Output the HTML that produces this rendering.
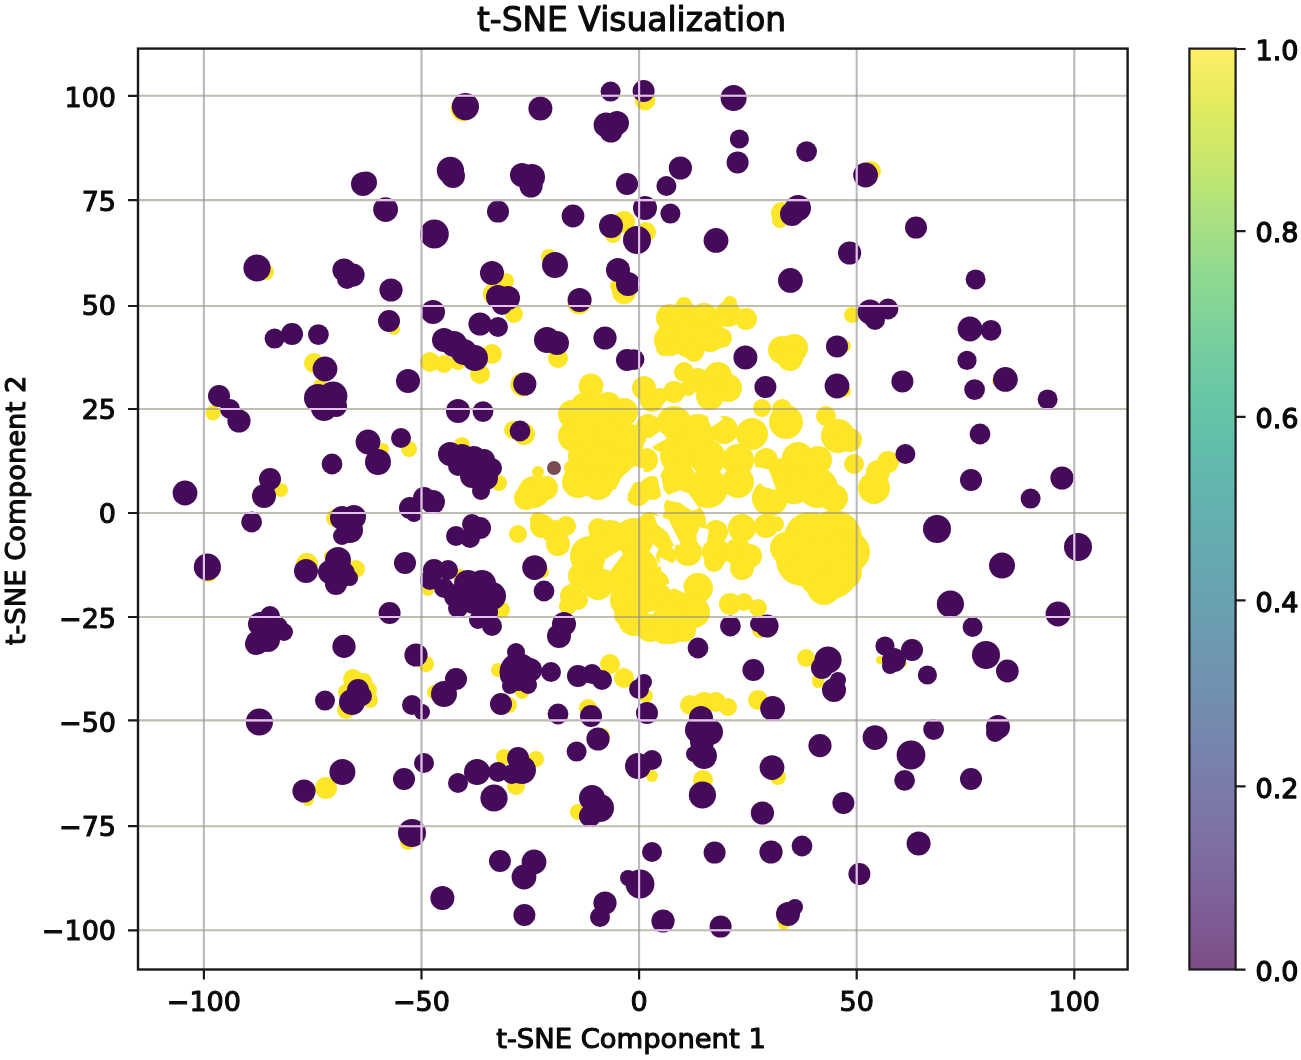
<!DOCTYPE html>
<html><head><meta charset="utf-8"><title>t-SNE Visualization</title>
<style>
html,body{margin:0;padding:0;background:#fff;}
svg{display:block}
text{font-family:"DejaVu Sans","Liberation Sans",sans-serif;fill:#0a0a0a;stroke:#0a0a0a;stroke-width:1.1px;stroke-linejoin:round}
.tk{font-size:27px}
.lb{font-size:27.4px}
.cbt{stroke-width:1.3px}
.tt{font-size:32.9px}
</style></head><body>
<svg width="1301" height="1060" viewBox="0 0 1301 1060">
<defs>
<linearGradient id="cb" x1="0" y1="1" x2="0" y2="0">
<stop offset="0.0000" stop-color="#7c4d87"/>
<stop offset="0.0625" stop-color="#7f5d97"/>
<stop offset="0.1250" stop-color="#7e6ca3"/>
<stop offset="0.1875" stop-color="#7b79aa"/>
<stop offset="0.2500" stop-color="#7686ae"/>
<stop offset="0.3125" stop-color="#7092b0"/>
<stop offset="0.3750" stop-color="#6b9db0"/>
<stop offset="0.4375" stop-color="#67a7b0"/>
<stop offset="0.5000" stop-color="#63b2af"/>
<stop offset="0.5625" stop-color="#62bcac"/>
<stop offset="0.6250" stop-color="#69c7a6"/>
<stop offset="0.6875" stop-color="#78d09d"/>
<stop offset="0.7500" stop-color="#8ed991"/>
<stop offset="0.8125" stop-color="#a9e181"/>
<stop offset="0.8750" stop-color="#c6e76e"/>
<stop offset="0.9375" stop-color="#e3eb5e"/>
<stop offset="1.0000" stop-color="#feee66"/>
</linearGradient>
<clipPath id="cp"><rect x="138.0" y="48.6" width="989.5999999999999" height="920.9"/></clipPath>
</defs>
<rect width="1301" height="1060" fill="#fff"/>

<defs><g id="pp"><circle cx="363.0" cy="184.0" r="12.0"/><circle cx="366.0" cy="182.4" r="11.0"/><circle cx="385.6" cy="209.6" r="12.4"/><circle cx="465.4" cy="106.6" r="13.6"/><circle cx="540.4" cy="108.6" r="12.0"/><circle cx="610.6" cy="91.6" r="10.0"/><circle cx="643.6" cy="91.0" r="11.0"/><circle cx="606.0" cy="125.0" r="12.4"/><circle cx="617.0" cy="123.0" r="12.0"/><circle cx="611.0" cy="131.0" r="11.6"/><circle cx="450.4" cy="170.4" r="13.6"/><circle cx="453.0" cy="176.0" r="12.0"/><circle cx="522.0" cy="175.0" r="12.0"/><circle cx="532.0" cy="177.0" r="13.0"/><circle cx="531.0" cy="186.0" r="11.6"/><circle cx="627.0" cy="184.0" r="11.0"/><circle cx="498.0" cy="211.6" r="11.0"/><circle cx="573.0" cy="216.0" r="11.4"/><circle cx="434.4" cy="234.0" r="14.4"/><circle cx="645.0" cy="208.0" r="12.0"/><circle cx="611.0" cy="226.0" r="12.0"/><circle cx="637.0" cy="240.0" r="14.0"/><circle cx="733.6" cy="98.0" r="13.0"/><circle cx="739.4" cy="139.0" r="9.6"/><circle cx="737.6" cy="162.4" r="11.0"/><circle cx="806.6" cy="151.6" r="10.4"/><circle cx="680.4" cy="168.0" r="11.6"/><circle cx="666.4" cy="186.0" r="10.0"/><circle cx="670.4" cy="213.6" r="10.0"/><circle cx="865.6" cy="175.0" r="12.4"/><circle cx="798.0" cy="208.0" r="13.0"/><circle cx="792.0" cy="214.0" r="12.0"/><circle cx="716.0" cy="240.4" r="12.4"/><circle cx="916.0" cy="227.6" r="11.0"/><circle cx="849.6" cy="253.0" r="11.6"/><circle cx="257.0" cy="268.0" r="13.6"/><circle cx="344.0" cy="270.0" r="11.6"/><circle cx="353.0" cy="275.0" r="11.6"/><circle cx="347.0" cy="279.0" r="10.0"/><circle cx="391.0" cy="290.0" r="11.6"/><circle cx="389.0" cy="321.0" r="11.0"/><circle cx="274.6" cy="338.6" r="10.0"/><circle cx="292.0" cy="334.0" r="11.0"/><circle cx="318.4" cy="334.6" r="10.4"/><circle cx="325.0" cy="369.0" r="12.4"/><circle cx="318.0" cy="398.0" r="14.0"/><circle cx="333.0" cy="396.0" r="14.4"/><circle cx="324.0" cy="408.0" r="13.0"/><circle cx="336.0" cy="406.0" r="11.0"/><circle cx="219.0" cy="396.0" r="11.0"/><circle cx="230.0" cy="409.0" r="10.0"/><circle cx="239.0" cy="421.0" r="11.6"/><circle cx="368.0" cy="442.0" r="12.4"/><circle cx="332.0" cy="464.0" r="10.4"/><circle cx="492.0" cy="273.0" r="12.0"/><circle cx="498.0" cy="297.0" r="12.0"/><circle cx="508.0" cy="298.0" r="12.0"/><circle cx="502.0" cy="305.0" r="10.0"/><circle cx="555.0" cy="265.0" r="13.0"/><circle cx="618.0" cy="270.0" r="12.0"/><circle cx="628.0" cy="284.0" r="12.0"/><circle cx="579.6" cy="300.0" r="12.0"/><circle cx="433.0" cy="312.0" r="12.0"/><circle cx="480.0" cy="324.0" r="11.6"/><circle cx="498.0" cy="327.0" r="10.0"/><circle cx="444.0" cy="340.0" r="12.0"/><circle cx="454.0" cy="344.0" r="13.0"/><circle cx="464.0" cy="352.0" r="13.0"/><circle cx="475.0" cy="358.0" r="13.0"/><circle cx="547.0" cy="340.0" r="13.0"/><circle cx="557.0" cy="343.0" r="12.0"/><circle cx="605.0" cy="338.0" r="11.6"/><circle cx="627.0" cy="360.0" r="11.0"/><circle cx="634.0" cy="359.6" r="10.4"/><circle cx="408.0" cy="381.0" r="12.0"/><circle cx="524.8" cy="384.0" r="11.6"/><circle cx="458.0" cy="411.0" r="12.0"/><circle cx="483.0" cy="411.6" r="10.4"/><circle cx="520.0" cy="431.0" r="10.4"/><circle cx="401.0" cy="438.0" r="10.0"/><circle cx="450.0" cy="454.0" r="12.0"/><circle cx="462.0" cy="456.0" r="12.0"/><circle cx="474.0" cy="458.0" r="12.0"/><circle cx="484.0" cy="460.0" r="11.0"/><circle cx="492.0" cy="468.0" r="10.0"/><circle cx="458.0" cy="466.0" r="10.0"/><circle cx="790.4" cy="280.4" r="12.4"/><circle cx="870.0" cy="312.0" r="12.4"/><circle cx="888.0" cy="309.0" r="10.4"/><circle cx="875.0" cy="320.0" r="10.0"/><circle cx="837.0" cy="346.4" r="11.0"/><circle cx="745.4" cy="357.6" r="12.0"/><circle cx="765.4" cy="387.0" r="11.0"/><circle cx="837.0" cy="386.0" r="12.4"/><circle cx="902.4" cy="381.4" r="11.0"/><circle cx="905.4" cy="454.0" r="10.0"/><circle cx="975.6" cy="279.4" r="10.0"/><circle cx="970.0" cy="329.0" r="12.4"/><circle cx="991.0" cy="330.4" r="10.4"/><circle cx="967.0" cy="360.4" r="9.6"/><circle cx="974.6" cy="389.6" r="10.4"/><circle cx="1005.4" cy="379.4" r="12.4"/><circle cx="1047.6" cy="399.4" r="10.0"/><circle cx="980.0" cy="434.0" r="10.4"/><circle cx="378.0" cy="462.0" r="13.0"/><circle cx="185.0" cy="493.0" r="12.4"/><circle cx="270.0" cy="479.0" r="11.0"/><circle cx="264.0" cy="496.0" r="12.0"/><circle cx="251.6" cy="522.0" r="10.4"/><circle cx="342.0" cy="518.0" r="12.0"/><circle cx="354.0" cy="517.0" r="12.0"/><circle cx="350.0" cy="530.0" r="13.0"/><circle cx="342.0" cy="536.0" r="9.0"/><circle cx="207.4" cy="567.0" r="13.6"/><circle cx="306.0" cy="571.0" r="12.0"/><circle cx="338.0" cy="560.0" r="13.0"/><circle cx="330.0" cy="572.0" r="12.0"/><circle cx="342.0" cy="574.0" r="13.0"/><circle cx="336.0" cy="584.0" r="11.0"/><circle cx="350.0" cy="578.0" r="8.0"/><circle cx="270.0" cy="616.0" r="10.0"/><circle cx="260.0" cy="624.0" r="12.0"/><circle cx="276.0" cy="628.0" r="12.0"/><circle cx="284.0" cy="632.0" r="9.0"/><circle cx="258.0" cy="642.0" r="12.0"/><circle cx="268.0" cy="640.0" r="12.0"/><circle cx="256.0" cy="644.0" r="11.0"/><circle cx="389.6" cy="613.0" r="11.0"/><circle cx="344.0" cy="646.4" r="11.6"/><circle cx="472.0" cy="476.0" r="12.0"/><circle cx="486.0" cy="478.0" r="12.0"/><circle cx="481.0" cy="491.0" r="9.0"/><circle cx="410.0" cy="508.0" r="11.0"/><circle cx="424.0" cy="498.0" r="11.0"/><circle cx="433.0" cy="502.0" r="12.0"/><circle cx="414.0" cy="514.0" r="8.0"/><circle cx="456.0" cy="536.0" r="10.0"/><circle cx="472.0" cy="524.0" r="10.0"/><circle cx="480.0" cy="528.0" r="11.0"/><circle cx="470.0" cy="538.0" r="10.0"/><circle cx="405.0" cy="563.0" r="11.0"/><circle cx="534.6" cy="567.6" r="12.4"/><circle cx="544.0" cy="591.0" r="10.4"/><circle cx="434.0" cy="570.0" r="11.0"/><circle cx="448.0" cy="570.0" r="10.0"/><circle cx="430.0" cy="580.0" r="10.0"/><circle cx="444.0" cy="588.0" r="10.0"/><circle cx="456.0" cy="596.0" r="12.0"/><circle cx="468.0" cy="584.0" r="14.0"/><circle cx="482.0" cy="584.0" r="14.0"/><circle cx="492.0" cy="596.0" r="14.0"/><circle cx="474.0" cy="600.0" r="14.0"/><circle cx="458.0" cy="608.0" r="10.0"/><circle cx="486.0" cy="612.0" r="12.0"/><circle cx="478.0" cy="620.0" r="9.0"/><circle cx="492.0" cy="626.0" r="10.0"/><circle cx="564.0" cy="624.0" r="12.0"/><circle cx="559.0" cy="636.0" r="12.0"/><circle cx="416.0" cy="655.0" r="11.6"/><circle cx="456.0" cy="679.0" r="11.0"/><circle cx="516.0" cy="652.0" r="9.0"/><circle cx="518.0" cy="666.0" r="12.0"/><circle cx="530.0" cy="670.0" r="12.0"/><circle cx="510.0" cy="676.0" r="10.0"/><circle cx="551.0" cy="672.0" r="10.0"/><circle cx="578.0" cy="676.0" r="11.0"/><circle cx="592.0" cy="674.0" r="10.0"/><circle cx="602.0" cy="680.0" r="10.0"/><circle cx="644.0" cy="682.0" r="8.0"/><circle cx="730.4" cy="626.0" r="10.4"/><circle cx="767.0" cy="626.0" r="11.6"/><circle cx="758.0" cy="624.0" r="8.0"/><circle cx="698.0" cy="648.0" r="10.4"/><circle cx="753.4" cy="670.0" r="11.0"/><circle cx="828.0" cy="660.0" r="13.6"/><circle cx="822.0" cy="668.0" r="11.0"/><circle cx="838.0" cy="680.0" r="8.0"/><circle cx="885.0" cy="646.0" r="9.6"/><circle cx="894.0" cy="660.0" r="12.0"/><circle cx="912.0" cy="650.0" r="11.0"/><circle cx="890.0" cy="666.0" r="8.0"/><circle cx="971.0" cy="480.0" r="11.0"/><circle cx="1062.0" cy="478.0" r="11.6"/><circle cx="1030.6" cy="498.6" r="10.0"/><circle cx="937.0" cy="529.0" r="14.0"/><circle cx="1078.0" cy="547.0" r="14.0"/><circle cx="1002.0" cy="565.6" r="13.0"/><circle cx="950.4" cy="604.0" r="13.6"/><circle cx="1058.0" cy="614.0" r="12.4"/><circle cx="972.6" cy="627.0" r="10.0"/><circle cx="986.0" cy="655.0" r="14.0"/><circle cx="1007.4" cy="671.0" r="11.4"/><circle cx="927.4" cy="675.0" r="9.6"/><circle cx="259.4" cy="722.0" r="13.6"/><circle cx="325.0" cy="700.6" r="10.0"/><circle cx="358.0" cy="690.0" r="11.0"/><circle cx="352.0" cy="702.0" r="13.0"/><circle cx="362.0" cy="696.0" r="10.0"/><circle cx="342.4" cy="772.0" r="13.0"/><circle cx="304.0" cy="791.0" r="11.6"/><circle cx="412.0" cy="705.0" r="10.0"/><circle cx="422.0" cy="712.0" r="8.0"/><circle cx="444.0" cy="694.0" r="13.0"/><circle cx="501.0" cy="704.0" r="11.0"/><circle cx="510.0" cy="686.0" r="8.0"/><circle cx="528.0" cy="685.0" r="9.0"/><circle cx="639.0" cy="689.0" r="10.0"/><circle cx="558.0" cy="714.0" r="10.4"/><circle cx="591.0" cy="716.0" r="11.0"/><circle cx="598.0" cy="739.0" r="11.6"/><circle cx="576.6" cy="751.6" r="10.0"/><circle cx="647.0" cy="713.0" r="11.0"/><circle cx="424.0" cy="763.0" r="10.0"/><circle cx="404.0" cy="779.0" r="11.0"/><circle cx="458.0" cy="783.0" r="10.0"/><circle cx="477.0" cy="772.0" r="13.0"/><circle cx="494.0" cy="798.0" r="13.6"/><circle cx="498.0" cy="772.0" r="10.0"/><circle cx="518.0" cy="758.0" r="11.0"/><circle cx="522.0" cy="770.0" r="14.0"/><circle cx="512.0" cy="774.0" r="10.0"/><circle cx="638.0" cy="766.0" r="13.0"/><circle cx="652.0" cy="760.0" r="10.0"/><circle cx="592.0" cy="798.0" r="13.0"/><circle cx="600.0" cy="808.0" r="14.0"/><circle cx="590.0" cy="816.0" r="11.0"/><circle cx="412.0" cy="833.0" r="14.0"/><circle cx="500.0" cy="861.0" r="11.0"/><circle cx="534.0" cy="862.0" r="12.4"/><circle cx="524.0" cy="877.0" r="12.4"/><circle cx="652.0" cy="852.0" r="10.0"/><circle cx="834.0" cy="690.0" r="12.0"/><circle cx="701.0" cy="718.0" r="12.0"/><circle cx="698.0" cy="730.0" r="13.0"/><circle cx="710.0" cy="732.0" r="13.0"/><circle cx="702.0" cy="742.0" r="12.0"/><circle cx="704.0" cy="756.0" r="13.0"/><circle cx="694.0" cy="754.0" r="8.0"/><circle cx="772.6" cy="708.4" r="12.4"/><circle cx="702.4" cy="795.0" r="13.6"/><circle cx="820.0" cy="745.6" r="11.6"/><circle cx="772.0" cy="767.6" r="12.4"/><circle cx="875.0" cy="737.6" r="12.4"/><circle cx="843.4" cy="803.0" r="11.0"/><circle cx="762.4" cy="813.0" r="11.6"/><circle cx="714.6" cy="852.6" r="11.0"/><circle cx="771.0" cy="852.0" r="11.6"/><circle cx="802.0" cy="846.0" r="10.4"/><circle cx="859.4" cy="874.0" r="11.0"/><circle cx="933.6" cy="729.6" r="10.4"/><circle cx="998.0" cy="727.0" r="12.0"/><circle cx="995.0" cy="733.0" r="9.0"/><circle cx="911.0" cy="755.0" r="14.4"/><circle cx="904.6" cy="780.4" r="10.4"/><circle cx="971.0" cy="779.0" r="11.0"/><circle cx="918.6" cy="843.6" r="12.0"/><circle cx="442.4" cy="898.0" r="12.0"/><circle cx="524.4" cy="915.0" r="11.0"/><circle cx="605.0" cy="903.0" r="11.6"/><circle cx="600.0" cy="917.0" r="10.0"/><circle cx="640.0" cy="884.0" r="14.4"/><circle cx="628.0" cy="878.0" r="8.0"/><circle cx="663.0" cy="921.0" r="11.6"/><circle cx="720.6" cy="926.6" r="11.0"/><circle cx="788.0" cy="914.0" r="12.0"/><circle cx="795.0" cy="907.0" r="8.0"/><circle cx="518.5" cy="672.0" r="19.0"/></g>
<mask id="pm" maskUnits="userSpaceOnUse" x="0" y="0" width="1301" height="1060"><use href="#pp" fill="#fff"/></mask></defs>
<g clip-path="url(#cp)">
<g fill="#fde528"><circle cx="463.0" cy="109.0" r="12.4"/><circle cx="645.0" cy="100.0" r="10.4"/><circle cx="624.0" cy="222.0" r="11.0"/><circle cx="613.0" cy="235.0" r="8.0"/><circle cx="646.0" cy="232.0" r="10.0"/><circle cx="871.0" cy="171.0" r="10.0"/><circle cx="782.0" cy="213.0" r="11.0"/><circle cx="780.0" cy="220.0" r="8.0"/><circle cx="266.0" cy="272.0" r="8.0"/><circle cx="394.0" cy="329.0" r="6.0"/><circle cx="314.0" cy="363.0" r="10.0"/><circle cx="320.0" cy="386.0" r="7.0"/><circle cx="213.0" cy="413.0" r="7.6"/><circle cx="591.0" cy="386.0" r="12.4"/><circle cx="572.0" cy="414.0" r="14.0"/><circle cx="586.0" cy="408.0" r="16.0"/><circle cx="608.0" cy="406.0" r="14.0"/><circle cx="624.0" cy="412.0" r="14.0"/><circle cx="644.0" cy="388.0" r="12.0"/><circle cx="652.0" cy="400.0" r="12.0"/><circle cx="574.0" cy="436.0" r="16.0"/><circle cx="590.0" cy="430.0" r="18.0"/><circle cx="610.0" cy="434.0" r="18.0"/><circle cx="630.0" cy="440.0" r="16.0"/><circle cx="648.0" cy="426.0" r="12.0"/><circle cx="584.0" cy="456.0" r="16.0"/><circle cx="602.0" cy="460.0" r="16.0"/><circle cx="622.0" cy="462.0" r="14.0"/><circle cx="646.0" cy="460.0" r="12.0"/><circle cx="572.0" cy="468.0" r="8.0"/><circle cx="538.0" cy="472.0" r="6.0"/><circle cx="506.0" cy="281.0" r="8.0"/><circle cx="494.0" cy="294.0" r="11.0"/><circle cx="514.0" cy="314.0" r="9.0"/><circle cx="624.0" cy="292.0" r="12.0"/><circle cx="616.0" cy="286.0" r="6.0"/><circle cx="579.0" cy="302.8" r="11.6"/><circle cx="430.0" cy="362.0" r="10.0"/><circle cx="444.0" cy="364.0" r="9.0"/><circle cx="492.0" cy="354.0" r="10.0"/><circle cx="480.0" cy="374.0" r="10.0"/><circle cx="458.0" cy="362.0" r="8.0"/><circle cx="558.0" cy="358.0" r="10.0"/><circle cx="522.4" cy="384.4" r="12.0"/><circle cx="513.0" cy="430.0" r="9.0"/><circle cx="524.0" cy="434.0" r="11.0"/><circle cx="409.0" cy="449.0" r="8.0"/><circle cx="462.0" cy="445.0" r="8.0"/><circle cx="670.0" cy="318.0" r="14.0"/><circle cx="684.0" cy="314.0" r="13.0"/><circle cx="704.0" cy="318.0" r="15.0"/><circle cx="728.0" cy="314.0" r="13.0"/><circle cx="746.0" cy="319.0" r="11.0"/><circle cx="730.0" cy="303.0" r="7.0"/><circle cx="684.0" cy="305.0" r="8.0"/><circle cx="670.0" cy="340.0" r="16.0"/><circle cx="690.0" cy="340.0" r="18.0"/><circle cx="710.0" cy="336.0" r="16.0"/><circle cx="722.0" cy="338.0" r="10.0"/><circle cx="664.0" cy="348.0" r="8.0"/><circle cx="694.0" cy="352.0" r="10.0"/><circle cx="782.0" cy="350.0" r="14.0"/><circle cx="794.0" cy="348.0" r="14.0"/><circle cx="790.0" cy="358.0" r="13.0"/><circle cx="684.0" cy="372.0" r="10.0"/><circle cx="698.0" cy="380.0" r="12.0"/><circle cx="718.0" cy="376.0" r="14.0"/><circle cx="728.0" cy="388.0" r="14.0"/><circle cx="674.0" cy="392.0" r="11.0"/><circle cx="710.0" cy="396.0" r="14.0"/><circle cx="660.0" cy="396.0" r="8.0"/><circle cx="688.0" cy="388.0" r="8.0"/><circle cx="762.0" cy="408.0" r="9.0"/><circle cx="782.0" cy="409.0" r="10.0"/><circle cx="786.0" cy="422.0" r="17.0"/><circle cx="826.0" cy="416.0" r="10.0"/><circle cx="838.0" cy="436.0" r="17.0"/><circle cx="850.0" cy="440.0" r="12.0"/><circle cx="674.0" cy="424.0" r="18.0"/><circle cx="698.0" cy="432.0" r="18.0"/><circle cx="724.0" cy="430.0" r="14.0"/><circle cx="752.0" cy="434.0" r="16.0"/><circle cx="678.0" cy="456.0" r="18.0"/><circle cx="708.0" cy="458.0" r="18.0"/><circle cx="738.0" cy="460.0" r="16.0"/><circle cx="766.0" cy="460.0" r="12.0"/><circle cx="798.0" cy="458.0" r="16.0"/><circle cx="818.0" cy="460.0" r="14.0"/><circle cx="854.0" cy="464.0" r="10.0"/><circle cx="662.0" cy="440.0" r="12.0"/><circle cx="782.0" cy="468.0" r="10.0"/><circle cx="852.0" cy="315.0" r="8.0"/><circle cx="845.0" cy="346.0" r="6.0"/><circle cx="845.0" cy="391.0" r="6.0"/><circle cx="888.0" cy="462.0" r="11.0"/><circle cx="996.0" cy="381.0" r="4.0"/><circle cx="281.0" cy="490.0" r="7.0"/><circle cx="335.0" cy="518.0" r="9.0"/><circle cx="209.0" cy="574.0" r="8.0"/><circle cx="307.0" cy="564.0" r="11.0"/><circle cx="356.0" cy="569.0" r="9.0"/><circle cx="329.0" cy="556.0" r="5.0"/><circle cx="534.0" cy="492.0" r="16.0"/><circle cx="526.0" cy="498.0" r="12.0"/><circle cx="546.0" cy="488.0" r="12.0"/><circle cx="578.0" cy="482.0" r="16.0"/><circle cx="598.0" cy="484.0" r="16.0"/><circle cx="618.0" cy="478.0" r="12.0"/><circle cx="638.0" cy="494.0" r="12.0"/><circle cx="652.0" cy="488.0" r="12.0"/><circle cx="518.0" cy="534.0" r="9.0"/><circle cx="542.0" cy="526.0" r="12.0"/><circle cx="554.0" cy="532.0" r="12.0"/><circle cx="566.0" cy="526.0" r="10.0"/><circle cx="558.0" cy="544.0" r="12.0"/><circle cx="538.0" cy="520.0" r="8.0"/><circle cx="590.0" cy="556.0" r="20.0"/><circle cx="610.0" cy="542.0" r="22.0"/><circle cx="634.0" cy="538.0" r="20.0"/><circle cx="598.0" cy="528.0" r="10.0"/><circle cx="650.0" cy="524.0" r="12.0"/><circle cx="582.0" cy="576.0" r="14.0"/><circle cx="598.0" cy="584.0" r="16.0"/><circle cx="572.0" cy="596.0" r="12.0"/><circle cx="568.0" cy="606.0" r="9.0"/><circle cx="618.0" cy="572.0" r="20.0"/><circle cx="638.0" cy="568.0" r="20.0"/><circle cx="628.0" cy="600.0" r="18.0"/><circle cx="648.0" cy="596.0" r="16.0"/><circle cx="634.0" cy="620.0" r="16.0"/><circle cx="650.0" cy="628.0" r="14.0"/><circle cx="622.0" cy="616.0" r="8.0"/><circle cx="578.0" cy="600.0" r="10.0"/><circle cx="610.0" cy="664.0" r="10.0"/><circle cx="624.0" cy="678.0" r="10.0"/><circle cx="499.0" cy="483.0" r="8.0"/><circle cx="543.0" cy="572.0" r="6.0"/><circle cx="460.0" cy="576.0" r="7.0"/><circle cx="428.0" cy="590.0" r="6.0"/><circle cx="502.0" cy="610.0" r="8.0"/><circle cx="426.0" cy="664.0" r="8.0"/><circle cx="498.0" cy="670.0" r="7.0"/><circle cx="810.0" cy="538.0" r="26.0"/><circle cx="834.0" cy="538.0" r="28.0"/><circle cx="850.0" cy="552.0" r="20.0"/><circle cx="802.0" cy="560.0" r="26.0"/><circle cx="828.0" cy="568.0" r="32.0"/><circle cx="824.0" cy="588.0" r="17.0"/><circle cx="786.0" cy="548.0" r="16.0"/><circle cx="844.0" cy="572.0" r="18.0"/><circle cx="678.0" cy="480.0" r="18.0"/><circle cx="708.0" cy="488.0" r="20.0"/><circle cx="738.0" cy="482.0" r="16.0"/><circle cx="770.0" cy="498.0" r="18.0"/><circle cx="794.0" cy="484.0" r="20.0"/><circle cx="818.0" cy="488.0" r="20.0"/><circle cx="834.0" cy="498.0" r="14.0"/><circle cx="874.0" cy="488.0" r="16.0"/><circle cx="878.0" cy="472.0" r="12.0"/><circle cx="778.0" cy="476.0" r="10.0"/><circle cx="674.0" cy="506.0" r="10.0"/><circle cx="684.0" cy="522.0" r="22.0"/><circle cx="664.0" cy="538.0" r="12.0"/><circle cx="688.0" cy="552.0" r="14.0"/><circle cx="666.0" cy="556.0" r="10.0"/><circle cx="716.0" cy="532.0" r="12.0"/><circle cx="716.0" cy="552.0" r="14.0"/><circle cx="714.0" cy="562.0" r="10.0"/><circle cx="742.0" cy="528.0" r="14.0"/><circle cx="766.0" cy="526.0" r="12.0"/><circle cx="776.0" cy="524.0" r="8.0"/><circle cx="738.0" cy="552.0" r="14.0"/><circle cx="750.0" cy="556.0" r="12.0"/><circle cx="742.0" cy="568.0" r="12.0"/><circle cx="662.0" cy="576.0" r="10.0"/><circle cx="660.0" cy="596.0" r="12.0"/><circle cx="698.0" cy="588.0" r="15.0"/><circle cx="678.0" cy="604.0" r="16.0"/><circle cx="694.0" cy="612.0" r="16.0"/><circle cx="670.0" cy="624.0" r="20.0"/><circle cx="684.0" cy="630.0" r="12.0"/><circle cx="664.0" cy="632.0" r="12.0"/><circle cx="730.0" cy="604.0" r="11.0"/><circle cx="744.0" cy="602.0" r="9.0"/><circle cx="758.0" cy="608.0" r="9.0"/><circle cx="806.0" cy="658.0" r="9.0"/><circle cx="818.0" cy="680.0" r="6.0"/><circle cx="760.0" cy="630.0" r="8.0"/><circle cx="880.0" cy="660.0" r="4.0"/><circle cx="904.0" cy="664.0" r="3.0"/><circle cx="346.0" cy="692.0" r="8.0"/><circle cx="368.0" cy="690.0" r="9.0"/><circle cx="370.0" cy="700.0" r="8.0"/><circle cx="346.0" cy="710.0" r="9.0"/><circle cx="326.0" cy="788.0" r="11.0"/><circle cx="308.0" cy="800.0" r="6.0"/><circle cx="434.0" cy="692.0" r="7.0"/><circle cx="509.0" cy="705.0" r="8.0"/><circle cx="522.0" cy="692.0" r="7.0"/><circle cx="646.0" cy="696.0" r="7.0"/><circle cx="588.0" cy="708.0" r="9.0"/><circle cx="602.0" cy="736.0" r="8.0"/><circle cx="504.0" cy="757.0" r="8.0"/><circle cx="536.0" cy="759.0" r="8.0"/><circle cx="516.0" cy="786.0" r="9.0"/><circle cx="652.0" cy="776.0" r="6.0"/><circle cx="578.0" cy="812.0" r="8.0"/><circle cx="408.0" cy="842.0" r="8.0"/><circle cx="818.0" cy="682.0" r="6.0"/><circle cx="690.0" cy="705.0" r="10.0"/><circle cx="704.0" cy="703.0" r="11.0"/><circle cx="716.0" cy="702.0" r="10.0"/><circle cx="728.0" cy="707.0" r="9.0"/><circle cx="758.0" cy="700.0" r="10.0"/><circle cx="703.0" cy="780.0" r="10.0"/><circle cx="778.0" cy="777.0" r="8.0"/><circle cx="627.0" cy="876.0" r="2.4"/><circle cx="784.0" cy="924.0" r="6.0"/><circle cx="549.0" cy="257.0" r="8.0"/><circle cx="353.0" cy="679.0" r="10.0"/><circle cx="364.0" cy="681.0" r="8.0"/><circle cx="383.0" cy="449.0" r="6.0"/></g>
<g fill="#fff" stroke="#fff" stroke-width="1.5" stroke-linejoin="round"><polygon points="634.0,467.0 643.0,469.0 643.0,475.0 633.0,483.0 627.0,494.0 626.0,509.0 606.0,509.0 608.0,500.0 616.0,490.0 622.0,478.0"/><polygon points="658.0,477.0 661.0,478.0 663.0,490.0 668.0,496.0 680.0,491.0 688.0,494.0 698.0,508.0 692.0,510.0 680.0,502.0 670.0,500.0 662.0,496.0"/><polygon points="655.0,516.0 668.0,520.0 676.0,536.0 680.0,544.0 674.0,544.0 668.0,532.0 658.0,524.0"/><polygon points="660.0,558.0 676.0,566.0 688.0,574.0 680.0,578.0 684.0,592.0 672.0,586.0 668.0,576.0 662.0,570.0"/><polygon points="758.0,468.0 768.0,470.0 772.0,480.0 775.0,489.0 764.0,486.0 755.0,477.0"/><polygon points="700.0,528.0 708.0,530.0 706.0,542.0 699.0,544.0 697.0,536.0"/><polygon points="620.0,551.0 622.0,554.0 610.0,570.0 604.0,568.0 606.0,560.0"/><polygon points="660.0,432.0 666.0,438.0 652.0,446.0 644.0,448.0 645.0,443.0"/><polygon points="710.0,412.0 722.0,419.0 712.0,426.0 709.0,420.0"/></g>
<g fill="#7a4a50"><circle cx="554.0" cy="468.0" r="7.0"/></g>
<use href="#pp" fill="#450a59"/>
<path d="M203.9 48.6V969.5M421.5 48.6V969.5M639.1 48.6V969.5M856.7 48.6V969.5M1074.3 48.6V969.5" stroke="#8f8e92" stroke-opacity="0.62" stroke-width="2.1" fill="none"/>
<path d="M138.0 930.3H1127.6M138.0 826.2H1127.6M138.0 720.4H1127.6M138.0 617.0H1127.6M138.0 513.0H1127.6M138.0 409.0H1127.6M138.0 306.0H1127.6M138.0 200.1H1127.6M138.0 95.8H1127.6" stroke="#9a9584" stroke-opacity="0.62" stroke-width="2.1" fill="none"/>
<path d="M203.9 48.6V969.5M421.5 48.6V969.5M639.1 48.6V969.5M856.7 48.6V969.5M1074.3 48.6V969.5M138.0 930.3H1127.6M138.0 826.2H1127.6M138.0 720.4H1127.6M138.0 617.0H1127.6M138.0 513.0H1127.6M138.0 409.0H1127.6M138.0 306.0H1127.6M138.0 200.1H1127.6M138.0 95.8H1127.6" stroke="#e2c3e8" stroke-width="2.1" fill="none" mask="url(#pm)"/>
</g>
<rect x="138.0" y="48.6" width="989.5999999999999" height="920.9" fill="none" stroke="#1a1a1a" stroke-width="2.4"/>
<path d="M203.9 969.5v10M421.5 969.5v10M639.1 969.5v10M856.7 969.5v10M1074.3 969.5v10M138.0 930.3h-10M138.0 826.2h-10M138.0 720.4h-10M138.0 617.0h-10M138.0 513.0h-10M138.0 409.0h-10M138.0 306.0h-10M138.0 200.1h-10M138.0 95.8h-10" stroke="#1a1a1a" stroke-width="2.2" fill="none"/>
<text class="tk" x="203.9" y="1011" text-anchor="middle">−100</text>
<text class="tk" x="421.5" y="1011" text-anchor="middle">−50</text>
<text class="tk" x="639.1" y="1011" text-anchor="middle">0</text>
<text class="tk" x="856.7" y="1011" text-anchor="middle">50</text>
<text class="tk" x="1074.3" y="1011" text-anchor="middle">100</text>
<text class="tk" x="116" y="940.0" text-anchor="end">−100</text>
<text class="tk" x="116" y="835.9" text-anchor="end">−75</text>
<text class="tk" x="116" y="731.7" text-anchor="end">−50</text>
<text class="tk" x="116" y="627.6" text-anchor="end">−25</text>
<text class="tk" x="116" y="523.4" text-anchor="end">0</text>
<text class="tk" x="116" y="419.3" text-anchor="end">25</text>
<text class="tk" x="116" y="315.1" text-anchor="end">50</text>
<text class="tk" x="116" y="210.9" text-anchor="end">75</text>
<text class="tk" x="116" y="106.8" text-anchor="end">100</text>
<text class="lb" x="631" y="1047.5" text-anchor="middle">t-SNE Component 1</text>
<text class="lb" transform="translate(24.5 510.5) rotate(-90)" text-anchor="middle">t-SNE Component 2</text>
<text class="tt" x="631.5" y="30.5" text-anchor="middle">t-SNE Visualization</text>
<rect x="1189.4" y="48.6" width="46.19999999999982" height="920.9" fill="url(#cb)" stroke="#1a1a1a" stroke-width="2.2"/>
<text class="tk cbt" x="1255.5" y="980.8">0.0</text>
<text class="tk cbt" x="1255.5" y="797.5">0.2</text>
<text class="tk cbt" x="1255.5" y="611.5">0.4</text>
<text class="tk cbt" x="1255.5" y="428.0">0.6</text>
<text class="tk cbt" x="1255.5" y="242.4">0.8</text>
<text class="tk cbt" x="1255.5" y="60.2">1.0</text>
<path d="M1235.6 969.6h10M1235.6 786.3h10M1235.6 600.3h10M1235.6 416.8h10M1235.6 231.2h10M1235.6 49.0h10" stroke="#1a1a1a" stroke-width="2.2" fill="none"/>
</svg></body></html>
